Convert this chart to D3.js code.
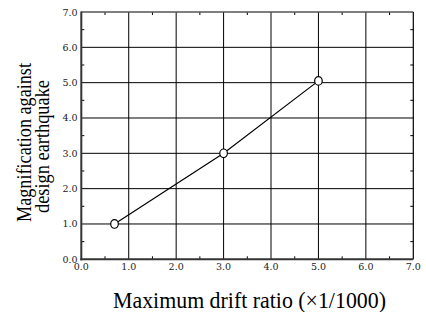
<!DOCTYPE html>
<html><head><meta charset="utf-8">
<script src="https://cdn.jsdelivr.net/npm/d3@7"></script>
<style>body{margin:0;background:#fff}svg{display:block}</style>
</head><body>
<script>
const driftRatio = [0.7, 3.0, 5.0];
const magnification = [1.0, 3.0, 5.05];
const xTicks = [0,1,2,3,4,5,6,7];
const yTicks = [0,1,2,3,4,5,6,7];
const xLabel = "Maximum drift ratio (×1/1000)";
const yLabelLines = ["Magnification against", "design earthquake"];

const W = 426, H = 312;
const m = {left: 81.3, top: 12, right: 413.3, bottom: 259.3};
const svg = d3.select("body").append("svg").attr("width", W).attr("height", H);
const x = d3.scaleLinear().domain([0,7]).range([m.left, m.right]);
const y = d3.scaleLinear().domain([0,7]).range([m.bottom, m.top]);
const font = "'Liberation Serif', 'Times New Roman', serif";
const tickFont = "'DejaVu Serif', serif";

// grid
const g = svg.append("g");
g.selectAll(".vg").data(xTicks.slice(1,-1)).enter().append("line")
 .attr("x1", d=>x(d)).attr("x2", d=>x(d)).attr("y1", m.top).attr("y2", m.bottom)
 .attr("stroke", "#000").attr("stroke-width", 1);
g.selectAll(".hg").data(yTicks.slice(1,-1)).enter().append("line")
 .attr("y1", d=>y(d)).attr("y2", d=>y(d)).attr("x1", m.left).attr("x2", m.right)
 .attr("stroke", "#000").attr("stroke-width", 1);

// minor ticks (inward) on all sides
const minor = d3.range(0.5, 7, 1);
const tl = 3;
minor.forEach(v => {
  g.append("line").attr("x1", x(v)).attr("x2", x(v)).attr("y1", m.bottom).attr("y2", m.bottom - tl).attr("stroke","#000");
  g.append("line").attr("x1", x(v)).attr("x2", x(v)).attr("y1", m.top).attr("y2", m.top + tl).attr("stroke","#000");
  g.append("line").attr("y1", y(v)).attr("y2", y(v)).attr("x1", m.left).attr("x2", m.left + tl).attr("stroke","#000");
  g.append("line").attr("y1", y(v)).attr("y2", y(v)).attr("x1", m.right).attr("x2", m.right - tl).attr("stroke","#000");
});

// frame
g.append("line").attr("x1", m.left).attr("x2", m.right).attr("y1", m.top).attr("y2", m.top).attr("stroke","#555").attr("stroke-width",1.5);
g.append("line").attr("x1", m.right).attr("x2", m.right).attr("y1", m.top).attr("y2", m.bottom).attr("stroke","#000").attr("stroke-width",1.2);
g.append("line").attr("x1", m.left).attr("x2", m.left).attr("y1", m.top-0.5).attr("y2", m.bottom+1).attr("stroke","#333").attr("stroke-width",2);
g.append("line").attr("x1", m.left-1).attr("x2", m.right).attr("y1", m.bottom).attr("y2", m.bottom).attr("stroke","#333").attr("stroke-width",2);

// tick labels
svg.append("g").selectAll("text").data(xTicks).enter().append("text")
 .attr("x", d=>x(d)).attr("y", 269.5).attr("text-anchor","middle")
 .attr("font-family", tickFont).attr("font-size", 9.5).attr("fill","#222").text(d=>d.toFixed(1));
svg.append("g").selectAll("text").data(yTicks).enter().append("text")
 .attr("x", 77.5).attr("y", d=>y(d)+3.5).attr("text-anchor","end")
 .attr("font-family", tickFont).attr("font-size", 9.5).attr("fill","#222").text(d=>d.toFixed(1));

// data line & markers
const pts = driftRatio.map((d,i)=>[d, magnification[i]]);
svg.append("path").datum(pts)
 .attr("d", d3.line().x(d=>x(d[0])).y(d=>y(d[1])))
 .attr("fill","none").attr("stroke","#000").attr("stroke-width",1.2);
svg.append("g").selectAll("ellipse").data(pts).enter().append("ellipse")
 .attr("cx", d=>x(d[0])).attr("cy", d=>y(d[1])).attr("rx", 3.8).attr("ry", 4.3)
 .attr("fill","#fff").attr("stroke","#000").attr("stroke-width",1.2);

// axis titles
svg.append("text").attr("x", 249.5).attr("y", 307.5).attr("text-anchor","middle")
 .attr("font-family", font).attr("font-size", 23)
 .attr("textLength", 273).attr("lengthAdjust", "spacingAndGlyphs").text(xLabel);
svg.append("text").attr("transform", "translate(30.5,142.5) rotate(-90)")
 .attr("text-anchor","middle").attr("font-family", font).attr("font-size", 20)
 .attr("textLength", 159).attr("lengthAdjust", "spacingAndGlyphs").text(yLabelLines[0]);
svg.append("text").attr("transform", "translate(48.5,146.5) rotate(-90)")
 .attr("text-anchor","middle").attr("font-family", font).attr("font-size", 20)
 .attr("textLength", 133).attr("lengthAdjust", "spacingAndGlyphs").text(yLabelLines[1]);
</script>
</body></html>
